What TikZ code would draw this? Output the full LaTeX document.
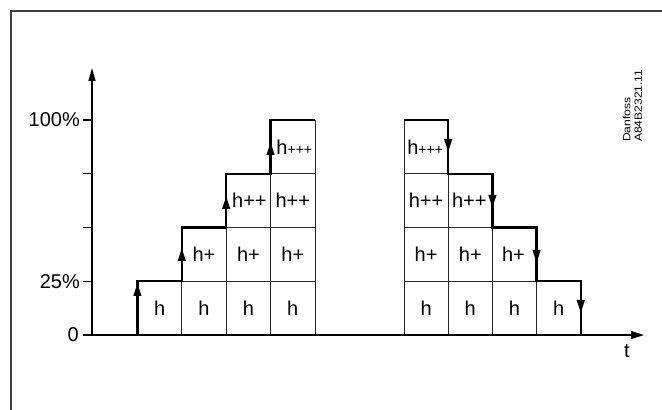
\documentclass[tikz,border=0pt]{standalone}
\usepackage{fontspec}
\setmainfont{Liberation Sans}
\usetikzlibrary{arrows.meta}

\begin{document}
\begin{tikzpicture}[x=1pt, y=1pt,
	cell/.style={line width=0.8pt, color=black!85},
	steps/.style={line width=2.4pt, line join=miter},
	axis/.style={line width=1.4pt},
	midarrow/.style={line width=2.4pt, -{Triangle[length=13pt, width=7.5pt]}},
	lbl/.style={font=\fontsize{20}{22}\selectfont, inner sep=0pt},
	tick/.style={font=\fontsize{20}{22}\selectfont, anchor=east, inner sep=0pt}]
	%%%%% START %%%%%
	\useasboundingbox (0, 0) rectangle (662, 410);

	\draw[line width=1.8pt, color=black!75] (11, 0) -- (11, 399) -- (662, 399);

	% rising side
	\draw[cell] (137.4, 75) rectangle (181.8, 128.75);
	\draw[cell] (181.8, 75) rectangle (226.2, 128.75);
	\draw[cell] (226.2, 75) rectangle (270.6, 128.75);
	\draw[cell] (270.6, 75) rectangle (315, 128.75);
	\draw[cell] (181.8, 128.75) rectangle (226.2, 182.5);
	\draw[cell] (226.2, 128.75) rectangle (270.6, 182.5);
	\draw[cell] (270.6, 128.75) rectangle (315, 182.5);
	\draw[cell] (226.2, 182.5) rectangle (270.6, 236.25);
	\draw[cell] (270.6, 182.5) rectangle (315, 236.25);
	\draw[cell] (270.6, 236.25) rectangle (315, 290);

	\node[lbl] (up1a) at (159.6, 101.9) {h};
	\node[lbl] (up1b) at (204, 101.9) {h};
	\node[lbl] (up1c) at (248.4, 101.9) {h};
	\node[lbl] (up1d) at (292.8, 101.9) {h};
	\node[lbl] (up2b) at (204, 155.6) {h+};
	\node[lbl] (up2c) at (248.4, 155.6) {h+};
	\node[lbl] (up2d) at (292.8, 155.6) {h+};
	\node[lbl] (up3c) at (249.4, 209.4) {h++};
	\node[lbl] (up3d) at (292.8, 209.4) {h++};
	\node[lbl] (up4d) at (294.3, 263.1) {h{\fontsize{14}{14}\selectfont+++}};

	% falling side
	\draw[cell] (404, 75) rectangle (448.2, 128.75);
	\draw[cell] (448.2, 75) rectangle (492.4, 128.75);
	\draw[cell] (492.4, 75) rectangle (536.6, 128.75);
	\draw[cell] (536.6, 75) rectangle (580.8, 128.75);
	\draw[cell] (404, 128.75) rectangle (448.2, 182.5);
	\draw[cell] (448.2, 128.75) rectangle (492.4, 182.5);
	\draw[cell] (492.4, 128.75) rectangle (536.6, 182.5);
	\draw[cell] (404, 182.5) rectangle (448.2, 236.25);
	\draw[cell] (448.2, 182.5) rectangle (492.4, 236.25);
	\draw[cell] (404, 236.25) rectangle (448.2, 290);

	\node[lbl] (dn1a) at (426.1, 101.9) {h};
	\node[lbl] (dn1b) at (470.3, 101.9) {h};
	\node[lbl] (dn1c) at (514.5, 101.9) {h};
	\node[lbl] (dn1d) at (558.7, 101.9) {h};
	\node[lbl] (dn2a) at (426.1, 155.6) {h+};
	\node[lbl] (dn2b) at (470.3, 155.6) {h+};
	\node[lbl] (dn2c) at (513.5, 155.6) {h+};
	\node[lbl] (dn3a) at (426.1, 209.4) {h++};
	\node[lbl] (dn3b) at (469.3, 209.4) {h++};
	\node[lbl] (dn4a) at (425.1, 263.1) {h{\fontsize{14}{14}\selectfont+++}};

	% axes
	\draw[axis, -{Triangle[length=13pt, width=7pt]}] (92, 75) -- (92, 342);
	\draw[axis, -{Triangle[length=13pt, width=8pt]}] (83, 75) -- (644, 75);
	\draw[axis] (83, 128.75) -- (92, 128.75);
	\draw[axis] (83, 182.5) -- (92, 182.5);
	\draw[axis] (83, 236.25) -- (92, 236.25);
	\draw[axis] (83, 290) -- (92, 290);

	\node[tick] (full) at (80, 290) {100\%};
	\node[tick] (quarter) at (80, 128.75) {25\%};
	\node[tick] (zero) at (79, 75) {0};
	\node[lbl] (time) at (627, 59) {t};

	% step curves
	\draw[steps] (128, 75) -- (137.4, 75) -- (137.4, 128.75) -- (181.8, 128.75) -- (181.8, 182.5)
		-- (226.2, 182.5) -- (226.2, 236.25) -- (270.6, 236.25) -- (270.6, 290) -- (315, 290);
	\draw[steps] (404, 290) -- (448.2, 290) -- (448.2, 236.25) -- (492.4, 236.25) -- (492.4, 182.5)
		-- (536.6, 182.5) -- (536.6, 128.75) -- (580.8, 128.75) -- (580.8, 75) -- (590, 75);

	\draw[midarrow] (137.4, 100) -- (137.4, 127);
	\draw[midarrow] (181.8, 140) -- (181.8, 162);
	\draw[midarrow] (226.2, 195) -- (226.2, 214);
	\draw[midarrow] (270.6, 248) -- (270.6, 268);
	\draw[midarrow] (448.2, 280) -- (448.2, 258);
	\draw[midarrow] (492.4, 225) -- (492.4, 202);
	\draw[midarrow] (536.6, 170) -- (536.6, 147);
	\draw[midarrow] (580.8, 118) -- (580.8, 97);

	\node[rotate=90, anchor=north west, align=left, inner sep=0pt,
		font=\fontsize{10.5}{11.5}\selectfont] (mark) at (622.5, 268)
		{\scalebox{1.15}[1]{Danfoss}\\\scalebox{1.15}[1]{A84B2321.11}};
	%%%%% END %%%%%
\end{tikzpicture}
\end{document}
